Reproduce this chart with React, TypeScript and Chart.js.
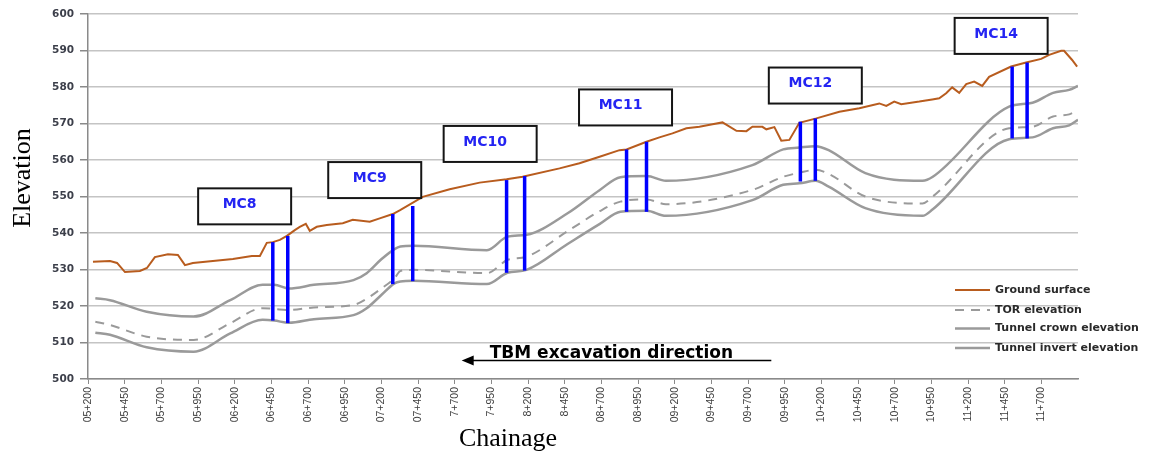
import React, { useEffect, useRef } from 'react';
import { Chart, registerables } from 'chart.js';

Chart.register(...registerables);

// ---------- DATA ----------
const tickLabels = [
  '05+200', '05+450', '05+700', '05+950', '06+200', '06+450', '06+700', '06+950',
  '07+200', '07+450', '7+700', '7+950', '8+200', '8+450', '08+700', '08+950',
  '09+200', '09+450', '09+700', '09+950', '10+200', '10+450', '10+700', '10+950',
  '11+200', '11+450', '11+700',
];
const chainageStart = 5200;
const chainageStep = 250;
const chainageEnd = 11950;

const seriesNames = ['Ground surface', 'TOR elevation', 'Tunnel crown elevation', 'Tunnel invert elevation'];

const groundChainage = [
  5234, 5350, 5398, 5452, 5554, 5602, 5656, 5745, 5813, 5861, 5915, 6188, 6317, 6372, 6419, 6460,
  6508, 6556, 6610, 6644, 6685, 6712, 6760, 6828, 6937, 7005, 7121, 7189, 7278, 7325, 7482, 7666,
  7870, 8054, 8163, 8415, 8551, 8688, 8824, 8872, 9008, 9096, 9185, 9280, 9369, 9458, 9526, 9621,
  9689, 9730, 9798, 9825, 9880, 9927, 9982, 10050, 10166, 10323, 10459, 10595, 10643, 10697, 10745,
  10868, 10956, 11004, 11051, 11092, 11140, 11188, 11242, 11297, 11344, 11494, 11596, 11699, 11753,
  11835, 11855, 11910, 11944,
];
const groundElev = [
  532.1, 532.3, 531.8, 529.3, 529.6, 530.4, 533.4, 534.2, 534.0, 531.2, 531.8, 532.9, 533.7, 533.7, 537.3, 537.5,
  538.1, 539.2, 540.8, 541.7, 542.5, 540.6, 541.7, 542.2, 542.7, 543.6, 543.1, 544.0, 545.2, 546.2, 549.9, 552.0,
  553.8, 554.7, 555.4, 557.7, 559.1, 560.9, 562.7, 562.9, 565.0, 566.2, 567.3, 568.7, 569.1, 569.8, 570.3, 568.0,
  567.9, 569.1, 569.1, 568.4, 569.0, 565.3, 565.5, 570.2, 571.4, 573.2, 574.2, 575.5, 574.8, 576.0, 575.3,
  576.0, 576.6, 576.9, 578.3, 579.9, 578.4, 580.8, 581.5, 580.3, 582.8, 585.6, 586.7, 587.7, 588.8,
  589.9, 589.9, 587.4, 585.6,
];

const tunnelChainage = [
  5250, 5350, 5600, 5920, 6170, 6390, 6470, 6570, 6740, 7010, 7100, 7200, 7290, 7330, 7420, 7920, 8060,
  8190, 8470, 8690, 8830, 9010, 9140, 9730, 9940, 10050, 10160, 10250, 10500, 10890, 10960, 11480,
  11640, 11780, 11890, 11950,
];
const crownElev = [
  522.1, 521.6, 518.4, 517.1, 521.6, 525.8, 525.8, 524.8, 525.8, 527.1, 529.0, 532.8, 535.6, 536.3, 536.5, 535.3, 539.0,
  539.5, 545.4, 551.8, 555.3, 555.6, 554.3, 558.6, 562.9, 563.4, 563.8, 562.7, 556.4, 554.3, 555.4, 574.6,
  575.7, 578.4, 579.2, 580.3,
];
const torElev = [
  515.7, 514.8, 511.6, 510.7, 515.3, 519.4, 519.2, 518.9, 519.6, 520.3, 522.0, 524.8, 527.6, 529.6, 529.9, 529.0, 532.6,
  533.5, 540.5, 546.0, 548.6, 549.2, 547.9, 551.8, 555.4, 556.5, 557.3, 556.2, 550.0, 548.1, 550.0, 568.7,
  569.1, 571.9, 572.5, 573.7,
];
const invertElev = [
  512.7, 512.1, 508.7, 507.5, 512.5, 516.2, 516.0, 515.4, 516.4, 517.5, 519.4, 523.0, 526.2, 526.7, 526.9, 526.0, 529.1,
  529.9, 537.0, 542.5, 545.8, 546.1, 544.7, 549.0, 553.2, 553.6, 554.3, 552.7, 546.8, 544.7, 546.5, 565.7,
  566.2, 568.7, 569.5, 571.0,
];

// monitoring cross-section lines (blue)
const mcLineChainage = [6460, 6562, 7278, 7414, 8054, 8177, 8872, 9008, 10057, 10159, 11501, 11603];
const mcLineTop = [537.5, 539.2, 545.2, 547.4, 554.5, 555.6, 562.9, 565.0, 570.5, 571.4, 585.6, 586.7];
const mcLineBottom = [516.0, 515.3, 526.0, 526.8, 529.1, 529.7, 545.8, 545.8, 554.1, 554.3, 565.9, 565.9];

// MC label boxes
const mcLabels = ['MC8', 'MC9', 'MC10', 'MC11', 'MC12', 'MC14'];
const mcLabelChainage = [6268, 7155, 7942, 8865, 10159, 11426];
const mcLabelElev = [547.3, 554.5, 564.4, 574.4, 580.4, 594.0];

// TBM arrow
const arrowText = 'TBM excavation direction';
const arrowFromChainage = 9859;
const arrowToChainage = 7748;
const arrowElev = 505.1;
const arrowTextChainage = 7939;
const arrowTextElev = 505.8;

const yTitle = 'Elevation';
const xTitle = 'Chainage';

// ---------- STYLE ----------
const groundColor = '#b85c1e';
const tunnelColor = '#9a9a9a';
const blue = '#0000ff';

const overlayPlugin = {
  id: 'overlay',
  afterDatasetsDraw(chart: any) {
    const { ctx, scales, chartArea } = chart;
    const x = scales.x;
    const y = scales.y;
    ctx.save();

    // MC boxes
    mcLabels.forEach((lab, i) => {
      const cx = x.getPixelForValue(mcLabelChainage[i]);
      const cy = y.getPixelForValue(mcLabelElev[i]);
      const w = 93;
      const h = 36;
      ctx.fillStyle = '#ffffff';
      ctx.fillRect(cx - w / 2, cy - h / 2, w, h);
      ctx.lineWidth = 2;
      ctx.strokeStyle = '#151515';
      ctx.strokeRect(cx - w / 2, cy - h / 2, w, h);
      ctx.fillStyle = '#2424f2';
      ctx.font = 'bold 14px "DejaVu Sans"';
      ctx.textAlign = 'center';
      ctx.textBaseline = 'middle';
      ctx.fillText(lab, cx - 5, cy - 2);
    });

    // Arrow
    const ax1 = x.getPixelForValue(arrowFromChainage);
    const ax2 = x.getPixelForValue(arrowToChainage);
    const ay = y.getPixelForValue(arrowElev);
    ctx.strokeStyle = '#000';
    ctx.lineWidth = 1.5;
    ctx.beginPath();
    ctx.moveTo(ax1, ay);
    ctx.lineTo(ax2 + 8, ay);
    ctx.stroke();
    ctx.fillStyle = '#000';
    ctx.beginPath();
    ctx.moveTo(ax2, ay);
    ctx.lineTo(ax2 + 12, ay - 5);
    ctx.lineTo(ax2 + 12, ay + 5);
    ctx.closePath();
    ctx.fill();
    ctx.font = 'bold 17px "DejaVu Sans"';
    ctx.textAlign = 'left';
    ctx.textBaseline = 'alphabetic';
    ctx.fillText(arrowText, x.getPixelForValue(arrowTextChainage), y.getPixelForValue(arrowTextElev));

    // Legend
    const rowsY = [-89, -69, -50.5, -31];
    const sx1 = chartArea.right - 123;
    const sx2 = chartArea.right - 88;
    const tx = chartArea.right - 83;
    const metas = chart.data.datasets;
    seriesNames.forEach((name, i) => {
      const ds = metas.find((d: any) => d.label === name);
      if (!ds) return;
      const ly = chartArea.bottom + rowsY[i];
      ctx.save();
      ctx.strokeStyle = ds.borderColor;
      ctx.lineWidth = ds.borderWidth;
      ctx.setLineDash(ds.borderDash || []);
      ctx.beginPath();
      ctx.moveTo(sx1, ly);
      ctx.lineTo(sx2, ly);
      ctx.stroke();
      ctx.restore();
      ctx.fillStyle = '#2a2a2a';
      ctx.font = 'bold 11px "DejaVu Sans"';
      ctx.textAlign = 'left';
      ctx.textBaseline = 'middle';
      ctx.fillText(name, tx, ly);
    });

    ctx.restore();
  },
  afterDraw(chart: any) {
    const { ctx } = chart;
    ctx.save();
    ctx.fillStyle = '#000';
    ctx.font = '26px "Liberation Serif"';
    ctx.textAlign = 'center';
    ctx.textBaseline = 'middle';
    ctx.fillText(xTitle, 508, 439);
    ctx.translate(23, 178);
    ctx.rotate(-Math.PI / 2);
    ctx.fillText(yTitle, 0, 0);
    ctx.restore();
  },
};

export default function App() {
  const ref = useRef<HTMLCanvasElement | null>(null);

  useEffect(() => {
    document.body.style.margin = '0';
    const canvas = ref.current;
    if (!canvas) return;

    const lineBase = { pointRadius: 0, fill: false, order: 1 };
    const datasets: any[] = [
      {
        ...lineBase,
        label: seriesNames[0],
        data: groundChainage.map((c, i) => ({ x: c, y: groundElev[i] })),
        borderColor: groundColor,
        borderWidth: 2,
        tension: 0,
      },
      {
        ...lineBase,
        label: seriesNames[1],
        data: tunnelChainage.map((c, i) => ({ x: c, y: torElev[i] })),
        borderColor: tunnelColor,
        borderWidth: 2,
        borderDash: [9, 7],
        cubicInterpolationMode: 'monotone',
      },
      {
        ...lineBase,
        label: seriesNames[2],
        data: tunnelChainage.map((c, i) => ({ x: c, y: crownElev[i] })),
        borderColor: tunnelColor,
        borderWidth: 2.5,
        cubicInterpolationMode: 'monotone',
      },
      {
        ...lineBase,
        label: seriesNames[3],
        data: tunnelChainage.map((c, i) => ({ x: c, y: invertElev[i] })),
        borderColor: tunnelColor,
        borderWidth: 2.5,
        cubicInterpolationMode: 'monotone',
      },
      ...mcLineChainage.map((c, i) => ({
        label: '',
        data: [
          { x: c, y: mcLineBottom[i] },
          { x: c, y: mcLineTop[i] },
        ],
        borderColor: blue,
        borderWidth: 3.5,
        pointRadius: 0,
        order: 0,
      })),
    ];

    const chart = new Chart(canvas, {
      type: 'line',
      data: { datasets },
      plugins: [overlayPlugin],
      options: {
        animation: false,
        responsive: false,
        devicePixelRatio: 1,
        events: [],
        layout: { padding: { left: 0, top: 14, right: 78, bottom: 0 } },
        plugins: {
          legend: { display: false },
          tooltip: { enabled: false },
        },
        scales: {
          x: {
            type: 'linear',
            min: chainageStart,
            max: chainageEnd,
            afterBuildTicks: (scale: any) => {
              scale.ticks = tickLabels.map((_, i) => ({ value: chainageStart + i * chainageStep }));
            },
            afterFit: (scale: any) => {
              scale.height = 75;
            },
            ticks: {
              autoSkip: false,
              maxRotation: 90,
              minRotation: 90,
              padding: 3,
              color: '#404040',
              font: { family: '"Liberation Sans"', size: 10.5 },
              callback: (v: any) => {
                const idx = Math.round((Number(v) - chainageStart) / chainageStep);
                return tickLabels[idx] ?? '';
              },
            },
            grid: {
              drawOnChartArea: false,
              drawTicks: true,
              tickLength: 5,
              tickColor: '#8a8a8a',
            },
            border: { color: '#8a8a8a', width: 1.5 },
          },
          y: {
            min: 500,
            max: 600,
            afterFit: (scale: any) => {
              scale.width = 88;
            },
            ticks: {
              stepSize: 10,
              padding: 6,
              color: '#3c3f4a',
              font: { family: '"DejaVu Sans"', size: 10.5, weight: 'bold' },
            },
            grid: {
              color: '#c4c4c4',
              lineWidth: 1.5,
              tickLength: 8,
              tickColor: '#8a8a8a',
            },
            border: { color: '#8a8a8a', width: 1.5 },
          },
        },
      } as any,
    });

    return () => chart.destroy();
  }, []);

  return (
    <div style={{ width: 1156, height: 454, background: '#fff' }}>
      <canvas ref={ref} width={1156} height={454} />
    </div>
  );
}
